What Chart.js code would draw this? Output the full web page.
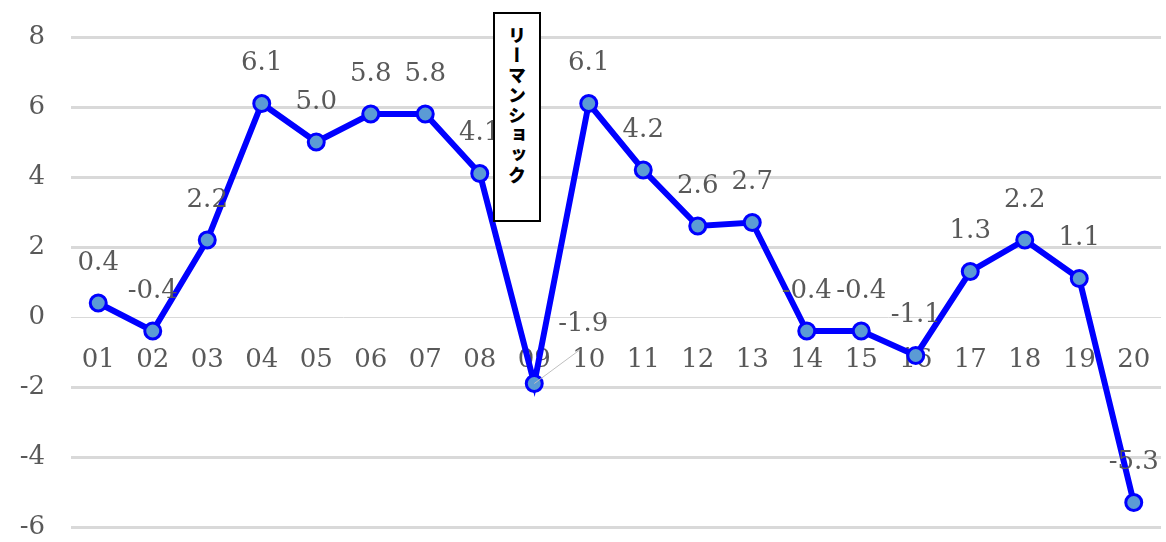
<!DOCTYPE html>
<html>
<head>
<meta charset="utf-8">
<script src="https://cdn.jsdelivr.net/npm/chart.js@4"></script>
<style>
  html, body { margin: 0; padding: 0; background: #fff; }
  #wrap { position: relative; width: 1166px; height: 542px; }
  #note {
    position: absolute; left: 493px; top: 12px; width: 44px;
    border: 2px solid #000; background: #fff;
    writing-mode: vertical-rl; text-orientation: upright;
    font-family: "Noto Sans CJK JP"; font-weight: 900; font-size: 18px;
    letter-spacing: 2px; line-height: 44px; padding-top: 12px;
    height: 194px; color: #000;
  }
</style>
</head>
<body>
<div id="wrap">
  <canvas id="growthChart" width="1166" height="542"></canvas>
  <div id="note">リーマンショック</div>
</div>
<script>
// --- データ ---
const years = ['01','02','03','04','05','06','07','08','09','10','11','12','13','14','15','16','17','18','19','20'];
const growth = [0.4, -0.4, 2.2, 6.1, 5.0, 5.8, 5.8, 4.1, -1.9, 6.1, 4.2, 2.6, 2.7, -0.4, -0.4, -1.1, 1.3, 2.2, 1.1, -5.3];
const yTicks = [8, 6, 4, 2, 0, -2, -4, -6];

const FONT = { family: 'DejaVu Serif', size: 26 };
const GRAY = '#595959';

// ラベル描画 (09 だけ引き出し線付き)
const valueLabels = {
    id: 'valueLabels',
    afterDatasetsDraw(chart) {
        const ctx = chart.ctx;
        const pts = chart.getDatasetMeta(0).data;
        ctx.save();
        ctx.font = FONT.size + 'px ' + FONT.family;
        ctx.fillStyle = GRAY;
        ctx.textAlign = 'center';
        ctx.textBaseline = 'middle';
        pts.forEach((p, i) => {
            const txt = growth[i].toFixed(1);
            if (years[i] === '09') {
                ctx.strokeStyle = '#bfbfbf';
                ctx.lineWidth = 1;
                ctx.beginPath();
                ctx.moveTo(p.x, p.y);
                ctx.lineTo(p.x + 46, p.y - 34);
                ctx.stroke();
                ctx.fillText(txt, p.x + 49, p.y - 59);
            } else {
                ctx.fillText(txt, p.x, p.y - 40);
            }
        });
        ctx.restore();
    }
};

const ctx = document.getElementById('growthChart').getContext('2d');
new Chart(ctx, {
    type: 'line',
    data: {
        labels: years,
        datasets: [{
            data: growth,
            borderColor: '#0000ff', borderWidth: 6,
            pointRadius: 8, pointBackgroundColor: '#5b9bd5',
            pointBorderColor: '#0000ff', pointBorderWidth: 3,
            tension: 0, clip: false
        }]
    },
    options: {
        responsive: false,
        animation: false,
        layout: { autoPadding: false, padding: { top: 37, bottom: 15, right: 5 } },
        plugins: { legend: { display: false }, tooltip: { enabled: false } },
        scales: {
            x: {
                position: { y: 0 },
                offset: true,
                afterFit: s => { s.height = 0; s.paddingLeft = 0; s.paddingRight = 0; },
                grid: { display: false },
                border: { display: false },
                ticks: { color: GRAY, font: FONT, padding: 20, maxRotation: 0, autoSkip: false }
            },
            y: {
                min: -6, max: 8,
                afterFit: s => { s.width = 71; s.paddingTop = 0; s.paddingBottom = 0; },
                afterBuildTicks: s => { s.ticks = yTicks.map(v => ({ value: v })); },
                grid: {
                    color: '#d9d9d9',
                    lineWidth: c => (c.tick && c.tick.value === 0 ? 1 : 3),
                    drawTicks: false
                },
                border: { display: false },
                ticks: { color: GRAY, font: FONT, padding: 26 }
            }
        }
    },
    plugins: [valueLabels]
});
</script>
</body>
</html>
